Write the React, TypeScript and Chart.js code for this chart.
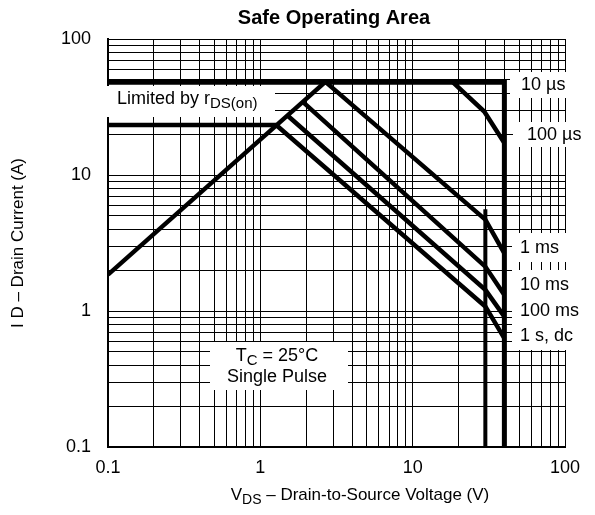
import React, { useEffect, useRef } from 'react';
import { Chart, registerables } from 'chart.js';

Chart.register(...registerables);

// ---------- Data (V in volts, I in amperes) ----------
const X_TICK_LABELS = ['0.1', '1', '10', '100'];
const Y_TICK_LABELS = ['0.1', '1', '10', '100'];
const GRID_MULTIPLIERS = [1, 2, 3, 4, 5, 6, 7, 8, 9];
const DECADES = [0.1, 1, 10];

const PULSE_10US_V = [0.1, 40, 40];
const PULSE_10US_I = [48, 48, 0.1];
const RDS_ON_V = [0.1, 2.65];
const RDS_ON_I = [1.85, 48];
const DC_CURRENT_V = [0.1, 1.27];
const DC_CURRENT_I = [23.3, 23.3];
const PULSE_100US_V = [18.4, 29.5, 40];
const PULSE_100US_I = [48, 29.3, 17.2];
const PULSE_1MS_V = [2.7, 30, 40];
const PULSE_1MS_I = [48, 4.7, 2.65];
const PULSE_10MS_V = [1.9, 30, 40];
const PULSE_10MS_I = [34.5, 2.12, 1.31];
const PULSE_100MS_V = [1.5, 30, 40];
const PULSE_100MS_I = [27.5, 1.43, 0.91];
const DC_1S_V = [1.27, 30, 40];
const DC_1S_I = [23.3, 1.08, 0.63];
const LIMIT_30V_V = [30, 30];
const LIMIT_30V_I = [5.6, 0.1];

const CURVE_LABELS = ['10 µs', '100 µs', '1 ms', '10 ms', '100 ms', '1 s, dc'];

// ---------- helpers ----------
const gridValues = (): number[] => {
  const out: number[] = [];
  DECADES.forEach((d) => GRID_MULTIPLIERS.forEach((m) => out.push(+(d * m).toPrecision(3))));
  out.push(100);
  return out;
};

const pts = (v: number[], i: number[]) => v.map((x, k) => ({ x, y: i[k] }));

const FONT = '"Liberation Sans", Arial, Helvetica, sans-serif';
const BASE = 18;

type Part = { t: string; sub?: boolean };

function drawRich(ctx: CanvasRenderingContext2D, parts: Part[], x: number, y: number, align: 'left' | 'center', size = BASE, subSize = 15) {
  let total = 0;
  const widths = parts.map((p) => {
    ctx.font = `${p.sub ? subSize : size}px ${FONT}`;
    const w = ctx.measureText(p.t).width;
    total += w;
    return w;
  });
  let cx = align === 'center' ? x - total / 2 : x;
  ctx.textAlign = 'left';
  ctx.textBaseline = 'middle';
  parts.forEach((p, k) => {
    ctx.font = `${p.sub ? subSize : size}px ${FONT}`;
    ctx.fillText(p.t, cx, p.sub ? y + 5 : y);
    cx += widths[k];
  });
}

// white boxes behind annotation text (page px)
const BOXES = [
  { x: 103, y: 86, w: 172, h: 31 },
  { x: 210, y: 342, w: 138, h: 48 },
  { x: 510, y: 72, w: 85, h: 26 },
  { x: 513, y: 122, w: 82, h: 25 },
  { x: 512, y: 233, w: 83, h: 29 },
  { x: 512, y: 270, w: 83, h: 80 },
];

const RIGHT_LABEL_POS = [
  { x: 521, y: 85 },
  { x: 527, y: 135 },
  { x: 520, y: 248 },
  { x: 520, y: 285 },
  { x: 520, y: 311 },
  { x: 520, y: 336 },
];

const annotPlugin = {
  id: 'annot',
  beforeDatasetsDraw(chart: any) {
    const ctx: CanvasRenderingContext2D = chart.ctx;
    ctx.save();
    ctx.fillStyle = '#ffffff';
    BOXES.forEach((b) => ctx.fillRect(b.x, b.y, b.w, b.h));
    ctx.restore();
  },
  afterDatasetsDraw(chart: any) {
    const ctx: CanvasRenderingContext2D = chart.ctx;
    const area = chart.chartArea;
    ctx.save();
    ctx.fillStyle = '#000000';
    // title
    ctx.font = `bold 20px ${FONT}`;
    ctx.textAlign = 'center';
    ctx.textBaseline = 'middle';
    ctx.fillText('Safe Operating Area', 334, 18);
    // right curve labels
    CURVE_LABELS.forEach((t, k) => drawRich(ctx, [{ t }], RIGHT_LABEL_POS[k].x, RIGHT_LABEL_POS[k].y, 'left'));
    // Limited by rDS(on)
    drawRich(ctx, [{ t: 'Limited by r' }, { t: 'DS(on)', sub: true }], 117, 99, 'left');
    // Tc box
    drawRich(ctx, [{ t: 'T' }, { t: 'C', sub: true }, { t: ' = 25°C' }], 277, 356, 'center');
    drawRich(ctx, [{ t: 'Single Pulse' }], 277, 377, 'center');
    // x axis title
    drawRich(ctx, [{ t: 'V' }, { t: 'DS', sub: true }, { t: ' – Drain-to-Source Voltage (V)' }], 360, 495, 'center', 17, 14);
    // y axis title
    ctx.translate(18, (area.top + area.bottom) / 2);
    ctx.rotate(-Math.PI / 2);
    ctx.font = `17px ${FONT}`;
    ctx.textAlign = 'center';
    ctx.textBaseline = 'middle';
    ctx.fillText('I D – Drain Current (A)', 0, 0);
    ctx.restore();
  },
};

const lineDs = (data: { x: number; y: number }[], width = 4.5) => ({
  data,
  showLine: true,
  borderColor: '#000000',
  backgroundColor: '#000000',
  borderWidth: width,
  pointRadius: 0,
  tension: 0,
  borderJoinStyle: 'miter' as const,
  borderCapStyle: 'butt' as const,
  fill: false,
});

export default function App() {
  const ref = useRef<HTMLCanvasElement | null>(null);

  useEffect(() => {
    document.body.style.margin = '0';
    if (!ref.current) return;
    const grid = gridValues();
    const labelFor = (labels: string[]) => (v: any) => {
      const f = labels.find((l) => Math.abs(parseFloat(l) - Number(v)) < 1e-9);
      return f ?? '';
    };
    const chart = new Chart(ref.current, {
      type: 'scatter',
      data: {
        datasets: [
          lineDs(pts(PULSE_10US_V, PULSE_10US_I), 5),
          lineDs(pts(RDS_ON_V, RDS_ON_I)),
          lineDs(pts(DC_CURRENT_V, DC_CURRENT_I)),
          lineDs(pts(PULSE_100US_V, PULSE_100US_I)),
          lineDs(pts(PULSE_1MS_V, PULSE_1MS_I)),
          lineDs(pts(PULSE_10MS_V, PULSE_10MS_I)),
          lineDs(pts(PULSE_100MS_V, PULSE_100MS_I)),
          lineDs(pts(DC_1S_V, DC_1S_I)),
          lineDs(pts(LIMIT_30V_V, LIMIT_30V_I), 4),
        ] as any,
      },
      options: {
        responsive: false,
        devicePixelRatio: 1,
        animation: false,
        events: [],
        layout: { padding: { top: 39, right: 30, bottom: 0, left: 0 } },
        plugins: {
          legend: { display: false },
          tooltip: { enabled: false },
          title: { display: false },
        },
        scales: {
          x: {
            type: 'logarithmic',
            min: 0.1,
            max: 100,
            afterFit: (s: any) => {
              s.height = 68;
            },
            afterBuildTicks: (s: any) => {
              s.ticks = grid.map((v) => ({ value: v }));
            },
            grid: { color: '#000000', lineWidth: 1, drawTicks: false },
            border: { display: true, color: '#000000', width: 2 },
            ticks: {
              autoSkip: false,
              maxRotation: 0,
              padding: 10,
              color: '#000000',
              font: { family: FONT, size: BASE },
              callback: labelFor(X_TICK_LABELS),
            },
          },
          y: {
            type: 'logarithmic',
            min: 0.1,
            max: 100,
            afterFit: (s: any) => {
              s.width = 108;
            },
            afterBuildTicks: (s: any) => {
              s.ticks = grid.map((v) => ({ value: v }));
            },
            grid: { color: '#000000', lineWidth: 1, drawTicks: false },
            border: { display: true, color: '#000000', width: 2 },
            ticks: {
              autoSkip: false,
              padding: 17,
              color: '#000000',
              font: { family: FONT, size: BASE },
              callback: labelFor(Y_TICK_LABELS),
            },
          },
        },
      } as any,
      plugins: [annotPlugin],
    });
    return () => chart.destroy();
  }, []);

  return (
    <div style={{ width: 595, height: 515 }}>
      <canvas ref={ref} width={595} height={515} style={{ display: 'block' }} />
    </div>
  );
}
